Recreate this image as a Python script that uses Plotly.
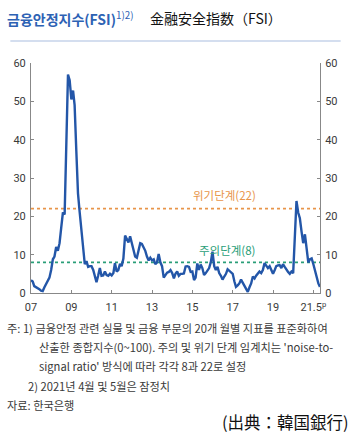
import plotly.graph_objects as go
import pandas as pd

# ---- data (monthly FSI, 2007-01 .. 2021-05) ----
start_month = "2007-01-01"
fsi_values = [
    3.3, 3.0, 1.8, 1.6, 1.4, 1.0, 0.6, 0.5, 1.5, 2.3, 2.8, 4.0,          # 2007
    6.0, 8.8, 9.5, 12.0, 11.0, 13.0, 17.0, 21.0, 20.5, 37.0, 57.0, 55.5,  # 2008
    50.5, 52.8, 49.0, 37.0, 26.0, 21.0, 16.0, 12.5, 7.5, 8.3, 6.8, 7.0,   # 2009
    7.0, 6.0, 4.5, 2.8, 4.5, 6.5, 4.5, 4.6, 5.6, 4.7, 4.5, 5.0,           # 2010
    4.6, 5.2, 7.8, 5.6, 6.0, 7.6, 7.0, 9.0, 15.0, 14.0, 13.2, 14.8,       # 2011
    13.0, 11.0, 9.5, 9.2, 11.0, 13.0, 12.8, 12.0, 11.0, 9.5, 8.5, 9.2,    # 2012
    8.5, 8.8, 7.5, 8.0, 10.2, 8.0, 7.0, 4.0, 4.6, 5.3, 5.5, 6.0,          # 2013
    5.2, 3.8, 5.0, 5.6, 4.5, 5.0, 5.0, 5.1, 6.9, 7.0, 6.8, 5.5,           # 2014
    5.6, 3.4, 4.0, 7.7, 6.0, 7.4, 6.5, 4.7, 5.2, 5.8, 6.5, 8.0,           # 2015
    10.8, 7.0, 6.0, 6.8, 5.2, 4.5, 3.5, 4.3, 5.0, 6.2, 5.8, 5.5,          # 2016
    5.0, 3.0, 1.6, 2.0, 2.5, 3.5, 2.8, 1.8, 1.0, 0.3, 1.5, 2.5,           # 2017
    4.3, 3.8, 4.5, 5.0, 5.6, 5.2, 6.0, 7.8, 7.0, 6.5, 7.0, 6.0,           # 2018
    5.0, 6.0, 7.0, 7.2, 7.3, 6.5, 7.5, 6.8, 6.0, 5.5, 5.0, 5.6,           # 2019
    5.2, 14.5, 24.0, 21.0, 19.5, 16.0, 13.0, 15.3, 11.0, 8.0, 8.8, 9.0,   # 2020
    7.5, 5.5, 4.0, 2.5, 1.6,                                              # 2021 (4,5 prelim)
]
months = pd.date_range(start_month, periods=len(fsi_values), freq="MS")

crisis_level = 22
caution_level = 8
crisis_label = "위기단계(22)"
caution_label = "주의단계(8)"

tick_dates = ["2007-01-01", "2009-01-01", "2011-01-01", "2013-01-01",
              "2015-01-01", "2017-01-01", "2019-01-01", "2021-01-01"]
tick_labels = ["07", "09", "11", "13", "15", "17", "19", "21.5<sup>p</sup>"]
y_ticks = [0, 10, 20, 30, 40, 50, 60]

title_kr = "<b>금융안정지수(FSI)</b><sup>1)2)</sup>"
title_ja = "金融安全指数（FSI）"
notes = [
    ("주: 1) 금융안정 관련 실물 및 금융 부문의 20개 월별 지표를 표준화하여", 5, 328),
    ("산출한 종합지수(0~100). 주의 및 위기 단계 임계치는 'noise-to-", 37, 347),
    ("signal ratio' 방식에 따라 각각 8과 22로 설정", 37, 366),
    ("2) 2021년 4월 및 5월은 잠정치", 26, 386),
    ("자료: 한국은행", 5, 405),
]
source_ja = "(出典：韓国銀行)"

# ---- layout geometry ----
W, H = 350, 442
L, R, T, B = 31, 325, 63, 293
pw, ph = R - L, B - T


def px(x):
    return (x - L) / pw


def py(y):
    return (B - y) / ph


KR = "Noto Sans CJK KR"
JP = "Noto Sans CJK JP"
TXT = "#3a3a3a"
BLUE_LINE = "#2356a8"
ORANGE = "#e8954a"
GREEN = "#2a9e78"

fig = go.Figure()
fig.add_trace(go.Scatter(x=months, y=fsi_values, mode="lines",
                         line=dict(color=BLUE_LINE, width=2.4),
                         hoverinfo="skip", showlegend=False))
# invisible trace to activate right axis
fig.add_trace(go.Scatter(x=[months[0]], y=[0], yaxis="y2", mode="markers",
                         marker=dict(opacity=0), hoverinfo="skip", showlegend=False))

shapes = []
for lvl, col in [(crisis_level, ORANGE), (caution_level, GREEN)]:
    shapes.append(dict(type="line", xref="paper", yref="y", x0=0, x1=1, y0=lvl, y1=lvl,
                       line=dict(color=col, width=1.6, dash="dot"), layer="below"))
# rule under title
shapes.append(dict(type="line", xref="paper", yref="paper", x0=px(10), x1=px(346),
                   y0=py(41), y1=py(41), line=dict(color="#a9bde0", width=1.2)))

annotations = [
    dict(text=crisis_label, x=px(262), y=crisis_level, xref="paper", yref="y",
         yshift=14, showarrow=False, font=dict(family=KR, size=11.5, color=ORANGE)),
    dict(text=caution_label, x=px(261), y=caution_level, xref="paper", yref="y",
         yshift=12, showarrow=False, font=dict(family=KR, size=11.5, color=GREEN)),
    dict(text=title_kr, x=px(5), y=py(18), xref="paper", yref="paper", xanchor="left",
         yanchor="middle", showarrow=False, font=dict(family=KR, size=14, color="#2d62b4")),
    dict(text=title_ja, x=px(150), y=py(18), xref="paper", yref="paper", xanchor="left",
         yanchor="middle", showarrow=False, font=dict(family=JP, size=14, color="#111111")),
    dict(text=source_ja, x=px(223), y=py(422), xref="paper", yref="paper", xanchor="left",
         yanchor="middle", showarrow=False, font=dict(family=JP, size=16.5, color="#111111")),
]
for txt, xx, yy in notes:
    annotations.append(dict(text=txt, x=px(xx), y=py(yy), xref="paper", yref="paper",
                            xanchor="left", yanchor="middle", showarrow=False,
                            font=dict(family=KR, size=11.2, color=TXT)))

axis_common = dict(showgrid=False, zeroline=False, showline=True, linecolor="#888888",
                   linewidth=1, ticks="inside", ticklen=3, tickcolor="#888888",
                   tickfont=dict(family="Roboto", size=11, color=TXT))

fig.update_layout(
    width=W, height=H, margin=dict(l=L, r=W - R, t=T, b=H - B),
    paper_bgcolor="white", plot_bgcolor="white",
    xaxis=dict(axis_common, type="date", range=[months[0], months[-1]],
               tickvals=tick_dates, ticktext=tick_labels, ticklabelstandoff=4),
    yaxis=dict(axis_common, range=[0, 60], tickvals=y_ticks, ticklabelstandoff=2),
    yaxis2=dict(axis_common, range=[0, 60], tickvals=y_ticks, overlaying="y", side="right",
                ticklabelstandoff=2),
    shapes=shapes, annotations=annotations,
)

fig.write_html("out.html")
